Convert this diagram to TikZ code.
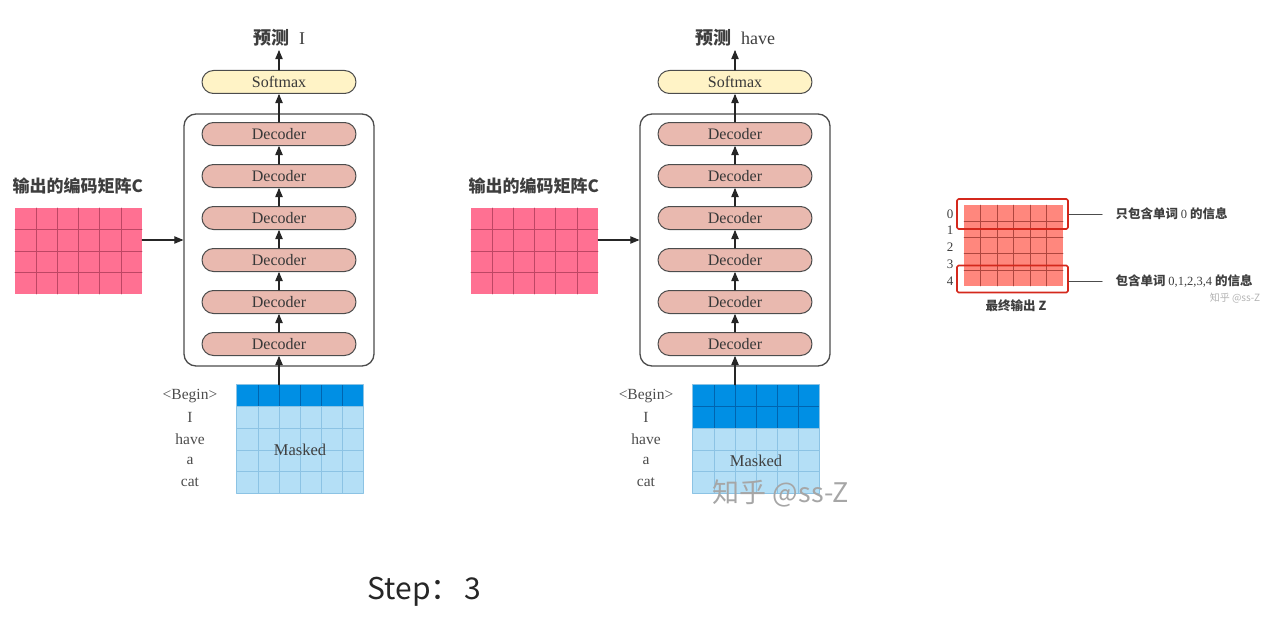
\documentclass[tikz,border=0pt]{standalone}
\usepackage{fontspec}
\setmainfont{Liberation Serif}
\newfontfamily\cjk{Noto Sans CJK SC}
\usepackage{tikz}
\usetikzlibrary{arrows}

\definecolor{cpink}{RGB}{255,112,146}
\definecolor{cpinkline}{RGB}{190,70,100}
\definecolor{decfill}{RGB}{233,185,175}
\definecolor{softfill}{RGB}{255,243,198}
\definecolor{maskdark}{RGB}{0,143,228}
\definecolor{masklight}{RGB}{180,223,246}
\definecolor{maskline}{RGB}{140,195,228}
\definecolor{maskdline}{RGB}{0,100,175}
\definecolor{zfill}{RGB}{255,135,125}
\definecolor{zline}{RGB}{175,70,62}
\definecolor{zred}{RGB}{212,40,28}
\definecolor{txtgray}{RGB}{62,62,62}

\newcommand\fsz[1]{\fontsize{#1}{#1}\selectfont}

\tikzset{
  decbox/.style={draw=black!70,line width=1pt,fill=decfill,rounded corners=11.5pt,
    minimum width=154pt,minimum height=23pt,inner sep=0pt,font=\fsz{16},text=black!78},
  softbox/.style={decbox,fill=softfill},
  stackbox/.style={draw=black!70,line width=1.3pt,rounded corners=12pt,
    minimum width=190pt,minimum height=252pt,inner sep=0pt},
  wordtxt/.style={font=\fsz{15.5},text=black!70,inner sep=1pt},
  cjklabel/.style={font=\cjk\bfseries\fsz{17},text=txtgray},
  flow/.style={->,line width=1.1pt,black!85},
}

\begin{document}
\begin{tikzpicture}[line cap=round,line join=round,>=triangle 45,x=1pt,y=-1pt]
\useasboundingbox (0,0) rectangle (1283,642);

% two decoding steps
\foreach \ox/\p/\k/\nm in {0/I/1/A,456/have/2/B}{
  % encoder output C
  \node[fill=cpink,minimum width=127pt,minimum height=86pt,inner sep=0pt] (cmat\nm) at (\ox+78.5,251) {};
  \foreach \i in {1,...,5}
    \draw[cpinkline,line width=0.6pt] (\ox+15+\i*21.17,208) -- (\ox+15+\i*21.17,294);
  \foreach \j in {1,2,3}
    \draw[cpinkline,line width=0.6pt] (\ox+15,208+\j*21.5) -- (\ox+142,208+\j*21.5);
  \node[cjklabel,anchor=west] (clabel\nm) at (\ox+9,186) {输出的编码矩阵C};

  % decoder stack
  \node[stackbox] (stack\nm) at (\ox+279,240) {};
  \foreach \d [count=\c] in {344,302,260,218,176,134}
    \node[decbox] (dec\c\nm) at (\ox+279,\d) {Decoder};
  \foreach \c [evaluate=\c as \n using int(\c+1)] in {1,...,5}
    \draw[flow] (dec\c\nm) -- (dec\n\nm);
  \node[softbox] (soft\nm) at (\ox+279,82) {Softmax};
  \draw[flow] (dec6\nm) -- (soft\nm);
  \node[font=\fsz{18},text=txtgray] (pred\nm) at (\ox+279,38) {{\cjk\bfseries 预测}\hspace{10pt}\p};
  \draw[flow] (soft\nm) -- (pred\nm);
  \draw[flow] ([yshift=11pt]cmat\nm.east) -- ([yshift=11pt]cmat\nm.east -| stack\nm.west);

  % masked input
  \node[fill=masklight,minimum width=126pt,minimum height=108pt,inner sep=0pt] (mask\nm) at (\ox+300,439) {};
  \fill[maskdark] (\ox+237,385) rectangle (\ox+363,385+\k*21.6);
  \foreach \i in {1,...,5}{
    \draw[maskline,line width=0.5pt] (\ox+237+\i*21,385+\k*21.6) -- (\ox+237+\i*21,493);
    \draw[maskdline,line width=0.5pt] (\ox+237+\i*21,385) -- (\ox+237+\i*21,385+\k*21.6);
  }
  \foreach \j in {1,...,4}
    \draw[maskline,line width=0.5pt] (\ox+237,385+\j*21.6) -- (\ox+363,385+\j*21.6);
  \ifnum\k>1 \draw[maskdline,line width=0.5pt] (\ox+237,406.6) -- (\ox+363,406.6); \fi
  \draw[maskline,line width=0.7pt] (mask\nm.north west) rectangle (mask\nm.south east);
  \node[font=\fsz{16.5},text=black!75] (masktxt\nm) at (\ox+300,{(385+\k*21.6+493)/2}) {Masked};
  \draw[flow] (dec1\nm.south |- mask\nm.north) -- (dec1\nm);
  \foreach \w [count=\r] in {<Begin>,I,have,a,cat}
    \node[wordtxt] (w\r\nm) at (\ox+190,374.4+\r*21.6) {\w};
}

\node[font=\cjk\fsz{27},text=black!35] (mark) at (781,493) {知乎 @ss-Z};

% final output Z
\node[fill=zfill,minimum width=99pt,minimum height=81pt,inner sep=0pt] (zmat) at (1013.5,245.5) {};
\foreach \i in {1,...,5}
  \draw[zline,line width=0.5pt] (964+\i*16.5,205) -- (964+\i*16.5,286);
\foreach \j in {1,...,4}
  \draw[zline,line width=0.5pt] (964,205+\j*16.2) -- (1063,205+\j*16.2);
\node[draw=zred,line width=1.6pt,minimum width=111pt,minimum height=30pt,rounded corners=1.5pt] (sel0) at (1012.5,214) {};
\node[draw=zred,line width=1.6pt,minimum width=111pt,minimum height=27pt,rounded corners=1.5pt] (sel4) at (1012.5,279) {};
\foreach \r in {0,...,4}
  \node[font=\fsz{13},text=txtgray] (row\r) at (950,214+\r*16.7) {\r};
\node[font=\cjk\bfseries\fsz{12.5},text=txtgray] (zlabel) at (1016,306) {最终输出 Z};
\node[font=\cjk\bfseries\fsz{12.5},text=txtgray,anchor=west] (info0) at (1112,214) {只包含单词 {\normalfont\mdseries 0} 的信息};
\node[font=\cjk\bfseries\fsz{12.5},text=txtgray,anchor=west] (info4) at (1112,281) {包含单词 {\normalfont\mdseries 0,1,2,3,4} 的信息};
\draw[black!70,line width=1pt] (sel0.east) -- ([xshift=-10pt]info0.west);
\draw[black!70,line width=1pt] (sel4.east |- info4.west) -- ([xshift=-10pt]info4.west);
\node[font=\cjk\fsz{10},text=black!30] (mark2) at (1235,298) {知乎 @ss-Z};

\node[font=\cjk\fsz{30},text=black!85,anchor=west] (step) at (364,592) {Step：\hspace{4pt}3};
\end{tikzpicture}
\end{document}
